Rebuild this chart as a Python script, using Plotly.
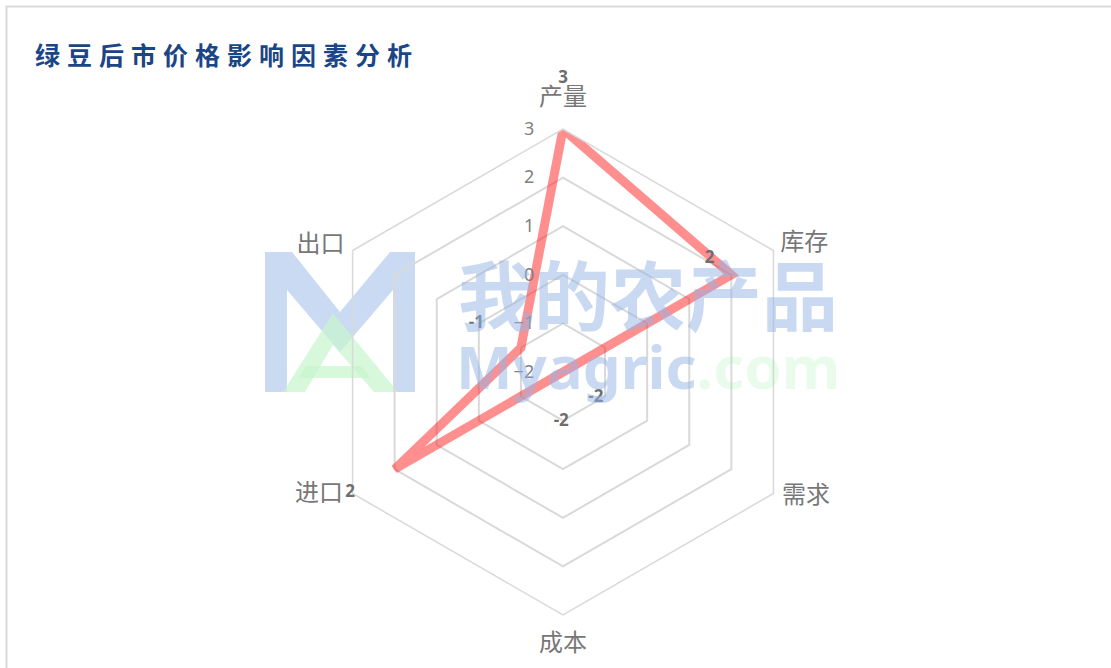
import plotly.graph_objects as go

W, H = 1111, 668

categories = ["产量", "库存", "需求", "成本", "进口", "出口"]
values = [3, 2, -2, -2, 2, -1]
radial_ticks = [-2, -1, 0, 1, 2, 3]
title_text = "绿豆后市价格影响因素分析"

# label placement offsets (style, not data)
label_dr = [1.03, -0.19, 0.86, 1.03, 1.04, 1.04]
label_dtheta = [0, -7.6, 8, 2, 0.4, -1]
cat_label_r = 3.62
cat_label_dtheta = [0, 2, -2.8, 0, 3.3, -2.6]

cx, cy, R = 563, 372, 243  # pixel geometry of the polar area
R2 = 295                   # radius of the (invisible) label overlay
RMIN, RMAX = -2, 3


def px(x):
    return x / W


def py(y):
    return 1 - y / H


dom_x = [px(cx - R), px(cx + R)]
dom_y = [py(cy + R), py(cy - R)]
dom2_x = [px(cx - R2), px(cx + R2)]
dom2_y = [max(0, py(cy + R2)), py(cy - R2)]

fig = go.Figure()

fig.add_trace(go.Scatterpolar(
    r=values + values[:1],
    theta=categories + categories[:1],
    mode="lines",
    line=dict(color="rgba(255,30,30,0.5)", width=9),
    hoverinfo="skip",
    showlegend=False,
    subplot="polar",
))

angles = [i * 360 / len(categories) for i in range(len(categories))]

# category names around the web
fig.add_trace(go.Scatterpolar(
    r=[cat_label_r] * len(categories),
    theta=[a + d for a, d in zip(angles, cat_label_dtheta)],
    mode="text",
    text=categories,
    textfont=dict(family="Noto Sans CJK SC", size=24, color="#777777"),
    cliponaxis=False,
    hoverinfo="skip",
    showlegend=False,
    subplot="polar2",
))

# data labels
fig.add_trace(go.Scatterpolar(
    r=[v + d for v, d in zip(values, label_dr)],
    theta=[a + d for a, d in zip(angles, label_dtheta)],
    mode="text",
    text=[str(v) for v in values],
    textfont=dict(family="Noto Sans, DejaVu Sans", size=17, color="#6e6e6e", weight="bold"),
    cliponaxis=False,
    hoverinfo="skip",
    showlegend=False,
    subplot="polar2",
))

fig.update_layout(
    width=W, height=H,
    margin=dict(l=0, r=0, t=0, b=0),
    paper_bgcolor="white",
    plot_bgcolor="white",
    polar=dict(
        domain=dict(x=dom_x, y=dom_y),
        bgcolor="rgba(0,0,0,0)",
        gridshape="linear",
        radialaxis=dict(
            range=[RMIN, RMAX], tickvals=radial_ticks, showline=False,
            gridcolor="#d9d9d9", gridwidth=1.5, angle=90, side="counterclockwise",
            tickangle=90, ticks="outside", ticklen=22, tickcolor="rgba(0,0,0,0)",
            tickfont=dict(family="Noto Sans, DejaVu Sans", size=18, color="#808080"),
        ),
        angularaxis=dict(
            type="category", rotation=90, direction="clockwise",
            showgrid=False, showline=True, linecolor="#d9d9d9", linewidth=1.5,
            ticks="", showticklabels=False,
        ),
    ),
    polar2=dict(
        domain=dict(x=dom2_x, y=dom2_y),
        bgcolor="rgba(0,0,0,0)",
        radialaxis=dict(range=[RMIN, RMIN + (RMAX - RMIN) * R2 / R], visible=False),
        angularaxis=dict(type="linear", rotation=90, direction="clockwise", visible=False),
    ),
)


# watermark logo (decoration)
def path(points):
    return "M " + " L ".join(f"{px(x):.5f},{py(y):.5f}" for x, y in points) + " Z"


m_pts = [(265, 252), (292, 252), (340, 312), (390, 252), (415, 252), (415, 392),
         (393, 392), (393, 290), (340, 352), (287, 290), (287, 392), (265, 392)]
a_pts = [(283, 392), (333, 313), (398, 392), (374, 392), (333, 345), (305, 392)]
bar_pts = [(306, 366), (362, 366), (370, 378), (298, 378)]
shapes = [
    dict(type="path", path=path(m_pts), xref="paper", yref="paper",
         fillcolor="rgba(170,196,236,0.62)", line=dict(width=0), layer="below"),
    dict(type="path", path=path(a_pts), xref="paper", yref="paper",
         fillcolor="rgba(200,245,205,0.7)", line=dict(width=0), layer="below"),
    dict(type="path", path=path(bar_pts), xref="paper", yref="paper",
         fillcolor="rgba(200,245,205,0.7)", line=dict(width=0), layer="below"),
    # chart border
    dict(type="rect", xref="paper", yref="paper", x0=px(6.5), y0=-0.02, x1=1.02, y1=py(6.5),
         line=dict(color="#d9d9d9", width=2), fillcolor="rgba(0,0,0,0)"),
]
fig.update_layout(shapes=shapes)

annotations = [
    dict(text='<span style="letter-spacing:7px">' + title_text + '</span>',
         x=px(33), y=py(54), xref="paper", yref="paper", xanchor="left", yanchor="middle",
         showarrow=False,
         font=dict(family="Noto Sans CJK SC", size=25, color="#1B4585", weight="bold")),
    dict(text="我的农产品", x=px(648), y=py(292), xref="paper", yref="paper",
         xanchor="center", yanchor="middle", showarrow=False,
         font=dict(family="Noto Sans CJK SC", size=76, color="rgba(150,180,230,0.5)", weight="bold")),
    dict(text='Myagric<span style="color:rgba(160,240,170,0.45)">.com</span>',
         x=px(648), y=py(366), xref="paper", yref="paper",
         xanchor="center", yanchor="middle", showarrow=False,
         font=dict(family="Noto Sans, DejaVu Sans", size=60, color="rgba(150,180,230,0.5)", weight="bold")),
]
fig.update_layout(annotations=annotations)

fig.write_html("out.html", config={"displayModeBar": False},
               post_script="document.body.style.margin='0';")
